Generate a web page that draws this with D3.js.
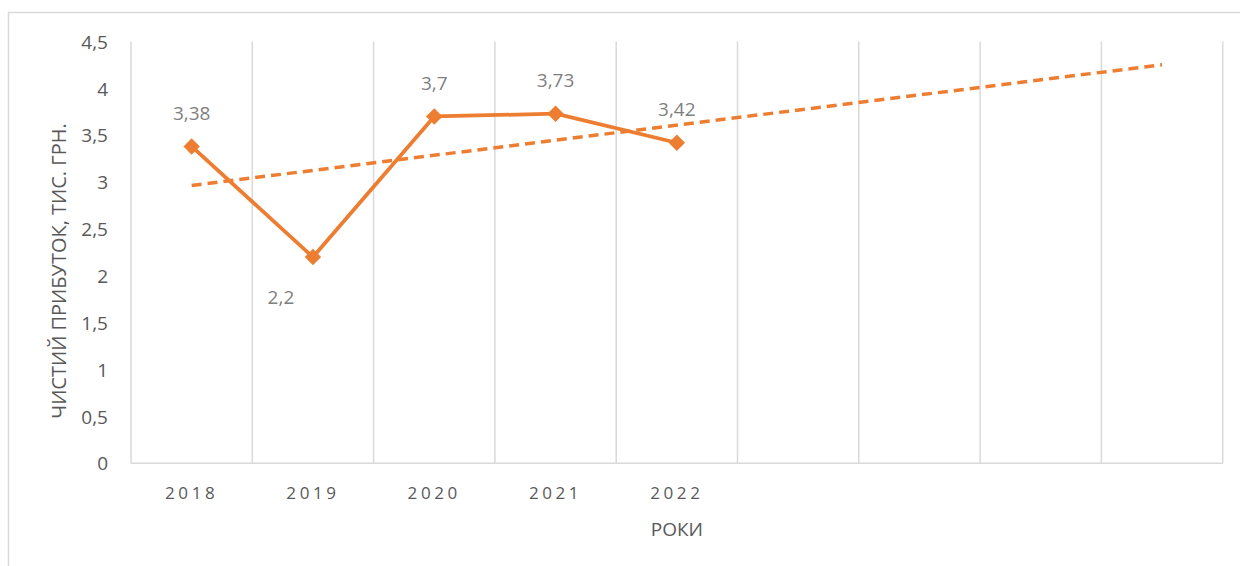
<!DOCTYPE html>
<html><head><meta charset="utf-8">
<script src="https://cdn.jsdelivr.net/npm/d3@7"></script>
<style>body{margin:0;background:#fff}svg{display:block}text{font-family:"Open Sans","Liberation Sans",sans-serif}</style>
</head><body><svg id="c" width="1240" height="566"></svg>
<script>
const years = ["2018","2019","2020","2021","2022"];
const profit = [3.38, 2.2, 3.7, 3.73, 3.42];
const yTicks = [0,0.5,1,1.5,2,2.5,3,3.5,4,4.5];
const forecastPeriods = 4;
const yTitle = "ЧИСТИЙ ПРИБУТОК, ТИС. ГРН.";
const xTitle = "РОКИ";

const svg = d3.select("#c");
svg.append("rect").attr("x",8.5).attr("y",12.5).attr("width",1300).attr("height",700)
  .attr("fill","none").attr("stroke","#d9d9d9").attr("stroke-width",1.5);

const L=131, R=1222.7, T=41.5, B=463.3;
const nCat = years.length + forecastPeriods;
const slots = d3.range(nCat);
const x = d3.scaleBand().domain(slots).range([L,R]).padding(0);
const cx = i => x(i)+x.bandwidth()/2;
const y = d3.scaleLinear().domain([0,4.5]).range([B,T]);
const fmt = v => String(v).replace(".",",");

// vertical gridlines
const g = svg.append("g");
g.selectAll("line.v").data(d3.range(nCat+1)).join("line")
  .attr("x1",i=>L+i*x.bandwidth()).attr("x2",i=>L+i*x.bandwidth())
  .attr("y1",T).attr("y2",B).attr("stroke","#d9d9d9").attr("stroke-width",1.5);
g.append("line").attr("x1",L).attr("x2",R).attr("y1",B).attr("y2",B).attr("stroke","#d9d9d9").attr("stroke-width",1.5);

// y axis labels
const ya = svg.append("g").attr("transform",`translate(${L-20},0)`)
  .call(d3.axisLeft(y).tickValues(yTicks).tickSize(0).tickFormat(fmt));
ya.select(".domain").remove();
ya.selectAll("text").attr("fill","#595959").style("font-size","19px").attr("dx",0).attr("dy","0.35em");

// x axis labels
const xa = svg.append("g").attr("transform",`translate(0,${B+21})`)
  .call(d3.axisBottom(x).tickSize(0).tickFormat(i=>years[i]||""));
xa.select(".domain").remove();
xa.selectAll("text").attr("fill","#595959").style("font-size","17px").style("letter-spacing","3.6px").attr("dy","0.7em");

// titles
svg.append("text").attr("x",(L+R)/2).attr("y",536).attr("text-anchor","middle")
  .attr("fill","#595959").style("font-size","19px").text(xTitle);
svg.append("text").attr("transform",`translate(66,271) rotate(-90)`).attr("text-anchor","middle")
  .attr("fill","#595959").style("font-size","20px").text(yTitle);

// trendline (least squares)
const xs = profit.map((d,i)=>i+1);
const mx = d3.mean(xs), my = d3.mean(profit);
const slope = d3.sum(xs.map((xv,i)=>(xv-mx)*(profit[i]-my)))/d3.sum(xs.map(xv=>(xv-mx)**2));
const icpt = my - slope*mx;
const trendPts = [0, nCat-1].map(i=>[cx(i), y(icpt+slope*(i+1))]);
svg.append("path").attr("d",d3.line()(trendPts)).attr("fill","none")
  .attr("stroke","#ED7D31").attr("stroke-width",3.5).attr("stroke-dasharray","10,6");

// series line
const line = d3.line().x((d,i)=>cx(i)).y(d=>y(d));
svg.append("path").attr("d",line(profit)).attr("fill","none")
  .attr("stroke","#ED7D31").attr("stroke-width",3.75).attr("stroke-linejoin","round");
svg.selectAll("path.m").data(profit).join("path")
  .attr("d",d3.symbol(d3.symbolSquare,135)())
  .attr("transform",(d,i)=>`translate(${cx(i)},${y(d)}) rotate(45)`)
  .attr("fill","#ED7D31");

// data labels
svg.selectAll("text.lbl").data(profit).join("text")
  .attr("x",(d,i)=>cx(i) + (i===1?-32:0))
  .attr("y",(d,i)=>y(d) + (i===1?40:-33))
  .attr("dy","0.35em").attr("text-anchor","middle")
  .attr("fill","#7f7f7f").style("font-size","19px").text(fmt);
</script></body></html>
